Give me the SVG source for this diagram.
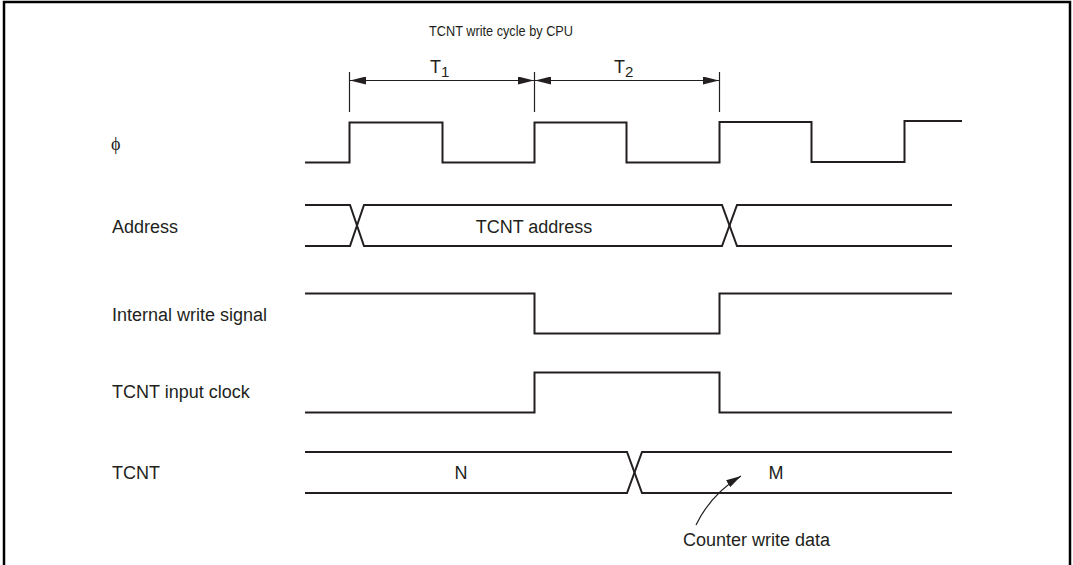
<svg xmlns="http://www.w3.org/2000/svg" width="1073" height="565" viewBox="0 0 1073 565">
<defs>
<style>
.sig{fill:none;stroke:#231f20;stroke-width:2;stroke-linejoin:miter}
.dim{fill:none;stroke:#231f20;stroke-width:1.2}
.lbl{font-family:"Liberation Sans",Arial,sans-serif;font-size:18px;fill:#231f20}
.mid{text-anchor:middle}
</style>
<marker id="ah" viewBox="0 0 16 8" refX="16" refY="4" markerWidth="16" markerHeight="8" markerUnits="userSpaceOnUse" orient="auto">
<path d="M0,0 L16,4 L0,8 Z" fill="#231f20"/>
</marker>
<marker id="ah2" viewBox="0 0 15 8" refX="15" refY="4" markerWidth="15" markerHeight="8" markerUnits="userSpaceOnUse" orient="auto">
<path d="M0,0 L15,4 L0,8 Z" fill="#231f20"/>
</marker>
</defs>
<rect width="1073" height="565" fill="#fff"/>
<path d="M4,566 V2 H1070 V566" fill="none" stroke="#000" stroke-width="2.5"/>

<g id="title">
<text class="lbl" x="429" y="36" style="font-size:15px" textLength="144" lengthAdjust="spacingAndGlyphs">TCNT write cycle by CPU</text>
<text class="lbl" x="430" y="73">T<tspan dy="4" font-size="15">1</tspan></text>
<text class="lbl" x="614" y="73">T<tspan dy="4" font-size="15">2</tspan></text>
</g>

<g id="connectors">
<line class="dim" x1="349.5" y1="72" x2="349.5" y2="112"/>
<line class="dim" x1="534.5" y1="72" x2="534.5" y2="112"/>
<line class="dim" x1="719.5" y1="72" x2="719.5" y2="112"/>
<line class="dim" x1="442" y1="80.5" x2="350" y2="80.5" marker-end="url(#ah)"/>
<line class="dim" x1="442" y1="80.5" x2="534" y2="80.5" marker-end="url(#ah)"/>
<line class="dim" x1="627" y1="80.5" x2="535" y2="80.5" marker-end="url(#ah)"/>
<line class="dim" x1="627" y1="80.5" x2="719" y2="80.5" marker-end="url(#ah)"/>
<path class="dim" d="M696,525 Q711,494 741,476" marker-end="url(#ah2)"/>
</g>

<g id="phi">
<text x="111" y="150" style="font-family:'Liberation Serif','DejaVu Serif',serif;font-size:18px;fill:#231f20">ϕ</text>
<path class="sig" d="M305,162.5 H349.5 V122.5 H442.5 V162.5 H534.5 V122.5 H626.5 V162.5 H719.5 V122 H811.5 V162 H904.5 V121 H962"/>
</g>

<g id="address">
<text class="lbl" x="112" y="233">Address</text>
<path class="sig" d="M305,205 H350 L364,246 H722 L737,205 H952"/>
<path class="sig" d="M305,246 H350 L364,205 H722 L737,246 H952"/>
<text class="lbl mid" x="534" y="233">TCNT address</text>
</g>

<g id="write">
<text class="lbl" x="112" y="321">Internal write signal</text>
<path class="sig" d="M305,293.5 H534.5 V333.5 H719.5 V293.5 H952"/>
</g>

<g id="inclk">
<text class="lbl" x="112" y="398">TCNT input clock</text>
<path class="sig" d="M305,412.5 H534.5 V372.5 H719.5 V412.5 H952"/>
</g>

<g id="tcnt">
<text class="lbl" x="112" y="479">TCNT</text>
<path class="sig" d="M305,452 H627 L642,493 H952"/>
<path class="sig" d="M305,493 H627 L642,452 H952"/>
<text class="lbl mid" x="461" y="479">N</text>
<text class="lbl mid" x="776" y="479">M</text>
</g>

<g id="note">
<text class="lbl" x="683" y="546">Counter write data</text>
</g>
</svg>
